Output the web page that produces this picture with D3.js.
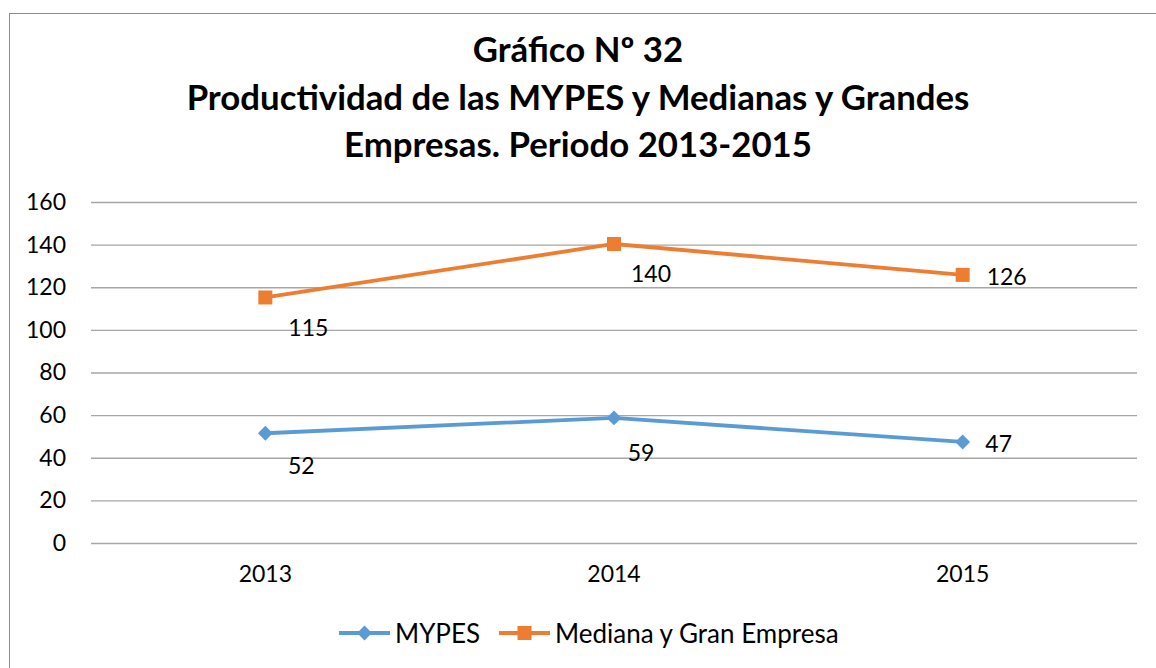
<!DOCTYPE html>
<html><head><meta charset="utf-8">
<script src="https://cdn.jsdelivr.net/npm/d3@7"></script>
<style>body{margin:0;background:#fff}svg{display:block}text{font-family:Lato,"Open Sans",sans-serif}</style>
</head><body><svg id="c" width="1156" height="668"></svg>
<script>
const titleLines = ["Gráfico Nº 32", "Productividad de las MYPES y Medianas y Grandes", "Empresas. Periodo 2013-2015"];
const categories = ["2013", "2014", "2015"];
const yTicks = [0, 20, 40, 60, 80, 100, 120, 140, 160];
const seriesNames = ["MYPES", "Mediana y Gran Empresa"];
const mypes = [51.5, 58.7, 47.4];
const mypesLabels = ["52", "59", "47"];
const grandes = [115.2, 140.3, 125.8];
const grandesLabels = ["115", "140", "126"];

// label placement offsets (pixels, relative to point)
const mypesLabelOff = [[36, 32], [27, 34], [36, 1]];
const grandesLabelOff = [[43, 30], [37, 29], [44, 1]];

const svg = d3.select("#c");
const blue = "#5B9BD5", orange = "#ED7D31", grid = "#A6A6A6";

svg.append("rect").attr("x", 9.5).attr("y", 13.5).attr("width", 1160).attr("height", 700)
  .attr("fill", "#fff").attr("stroke", "#8c8c8c").attr("stroke-width", 1);

const x = d3.scaleBand().domain(categories).range([91, 1137]).padding(0);
const y = d3.scaleLinear().domain([0, 160]).range([543, 202]);
const cx = c => x(c) + x.bandwidth() / 2;

// title
const tg = svg.append("g");
const tY = [62, 110, 157];
const tt = tg.selectAll("text").data(titleLines).join("text")
  .attr("x", 578).attr("y", (d, i) => tY[i]).attr("text-anchor", "middle")
  .attr("font-weight", "bold").attr("font-size", 30).attr("fill", "#000").text(d => d);
const w = tt.nodes()[1].getComputedTextLength();
tt.attr("font-size", 30 * 783 / w);

const fs = 23;
// y axis with gridlines
const yAxis = d3.axisLeft(y).tickValues(yTicks).tickSize(-(1137 - 91)).tickPadding(25);
const gy = svg.append("g").attr("transform", "translate(91,0)").call(yAxis);
gy.select(".domain").remove();
gy.selectAll(".tick line").attr("stroke", grid).attr("stroke-width", 1.3);
gy.selectAll(".tick text").attr("font-size", fs).attr("fill", "#000").attr("font-family", "Lato,sans-serif");

// x axis labels
const xAxis = d3.axisBottom(x).tickSize(0).tickPadding(23);
const gx = svg.append("g").attr("transform", "translate(0,543)").call(xAxis);
gx.select(".domain").remove();
gx.selectAll(".tick text").attr("font-size", fs).attr("fill", "#000").attr("font-family", "Lato,sans-serif");

const line = d3.line().x((d, i) => cx(categories[i])).y(d => y(d));
const series = [
  {vals: mypes, labels: mypesLabels, off: mypesLabelOff, color: blue, shape: d3.symbolSquare, size: 110, rot: 45},
  {vals: grandes, labels: grandesLabels, off: grandesLabelOff, color: orange, shape: d3.symbolSquare, size: 196, rot: 0}
];
series.forEach(s => {
  svg.append("path").attr("d", line(s.vals)).attr("fill", "none").attr("stroke", s.color)
    .attr("stroke-width", 3.8).attr("stroke-linejoin", "round");
  svg.append("g").selectAll("path").data(s.vals).join("path")
    .attr("d", d3.symbol().type(s.shape).size(s.size))
    .attr("transform", (d, i) => `translate(${cx(categories[i])},${y(d)}) rotate(${s.rot})`)
    .attr("fill", s.color);
  svg.append("g").selectAll("text").data(s.vals).join("text")
    .attr("x", (d, i) => cx(categories[i]) + s.off[i][0])
    .attr("y", (d, i) => y(d) + s.off[i][1])
    .attr("text-anchor", "middle").attr("dominant-baseline", "central")
    .attr("font-size", fs).attr("fill", "#000").text((d, i) => s.labels[i]);
});

// legend
const legX = [339, 499];
const legY = 633;
seriesNames.forEach((n, i) => {
  const s = series[i];
  const g = svg.append("g");
  g.append("line").attr("x1", legX[i]).attr("x2", legX[i] + 51).attr("y1", legY).attr("y2", legY)
    .attr("stroke", s.color).attr("stroke-width", 3.8);
  g.append("path").attr("d", d3.symbol().type(s.shape).size(s.size)())
    .attr("transform", `translate(${legX[i] + 25.5},${legY}) rotate(${s.rot})`).attr("fill", s.color);
  g.append("text").attr("x", legX[i] + 56).attr("y", legY).attr("dominant-baseline", "central")
    .attr("font-size", 26).attr("fill", "#000").text(n);
});
</script></body></html>
